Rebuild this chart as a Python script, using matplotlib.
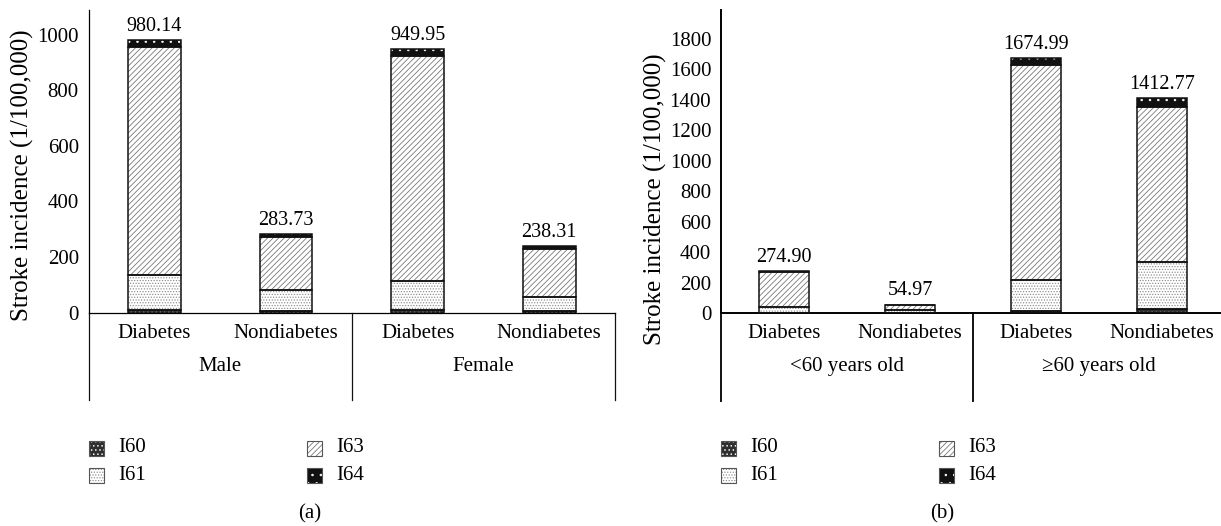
import matplotlib
matplotlib.use("Agg")
import matplotlib.pyplot as plt
from matplotlib.patches import Rectangle
import numpy as np

plt.rcParams.update({"font.family": ["Liberation Serif", "DejaVu Serif"],
                     "font.size": 15, "hatch.linewidth": 0.55})

W, H = 1221, 526

# ---- data ----
cats = ["Diabetes", "Nondiabetes", "Diabetes", "Nondiabetes"]
subtypes = ["I60", "I61", "I63", "I64"]

groups_a = ["Male", "Female"]
i60_a = [8, 6, 8, 5]
i61_a = [126, 74, 105, 52]
i63_a = [822.14, 193.73, 812.95, 172.31]
i64_a = [24, 10, 24, 9]
tot_a = [980.14, 283.73, 949.95, 238.31]

groups_b = ["<60 years old", "\u226560 years old"]
i60_b = [3, 2, 13, 24]
i61_b = [38, 20, 202, 309]
i63_b = [225.90, 29.97, 1414.99, 1018.77]
i64_b = [8, 3, 45, 61]
tot_b = [274.90, 54.97, 1674.99, 1412.77]

STY = {"I60": dict(fc="#2e2e2e", hc="white", hatch="...."),
       "I61": dict(fc="white", hc="#8c8c8c", hatch="......"),
       "I63": dict(fc="white", hc="#6e6e6e", hatch="//////"),
       "I64": dict(fc="#111111", hc="white", hatch="..")}


def fx(px):
    return px / W


def fy(py):
    return (H - py) / H


fig = plt.figure(figsize=(W / 100, H / 100), dpi=100)
ax_a = fig.add_axes([fx(88.5), fy(312.5), 526.5 / W, 302.5 / H])
ax_b = fig.add_axes([fx(721), fy(313), 504 / W, 303 / H])


def draw(ax, layers, totals, groups, ymax, yticks, lab_xy, lw, right_line):
    x = np.arange(len(cats))
    bot = np.zeros(len(cats))
    for name, vals in zip(subtypes, layers):
        s = STY[name]
        vals = np.asarray(vals, float)
        ax.bar(x, vals, 0.4, bottom=bot, color=s["fc"], edgecolor=s["hc"],
               hatch=s["hatch"], linewidth=0, zorder=2)
        ax.bar(x, vals, 0.4, bottom=bot, fill=False, edgecolor="#111111",
               linewidth=1.1, zorder=3)
        bot += vals
    for xi, t in zip(x, totals):
        ax.annotate(f"{t:.2f}", (xi, t), xytext=(0, 3), textcoords="offset points",
                    ha="center", va="bottom", fontsize=14.5)
    ax.set_xlim(-0.5, len(cats) - 0.5)
    ax.set_ylim(0, ymax)
    ax.set_yticks(yticks)
    ax.set_xticks([])
    ax.tick_params(axis="y", length=0, pad=7)
    for sp in ["top", "right"]:
        ax.spines[sp].set_visible(False)
    for sp in ["left", "bottom"]:
        ax.spines[sp].set_linewidth(lw)
    ax.set_ylabel("Stroke incidence (1/100,000)", fontsize=18)
    ax.yaxis.set_label_coords(*lab_xy)

    # category table under the axis
    ybot = -0.29
    xs = [0, 0.5, 1.0] if right_line else [0, 0.5]
    for xl in xs:
        ax.plot([xl, xl], [0, ybot], transform=ax.transAxes, clip_on=False,
                color="#111111", lw=lw)
    tr = ax.get_xaxis_transform()
    for xi, c in zip(x, cats):
        ax.text(xi, -0.068, c, transform=tr, ha="center", va="center")
    for gi, g in enumerate(groups):
        ax.text(gi * 2 + 0.5, -0.178, g, transform=tr, ha="center", va="center")


draw(ax_a, [i60_a, i61_a, i63_a, i64_a], tot_a, groups_a, 1090,
     np.arange(0, 1001, 200), (-0.104, 0.455), 0.9, True)
draw(ax_b, [i60_b, i61_b, i63_b, i64_b], tot_b, groups_b, 1990,
     np.arange(0, 1801, 200), (-0.108, 0.375), 1.4, False)

# ---- legends ----
cols = {"I60": (0, 0), "I61": (0, 1), "I63": (1, 0), "I64": (1, 1)}
for off, cap in [(0, "(a)"), (632, "(b)")]:
    for name in subtypes:
        c, r = cols[name]
        x0 = off + 89 + c * 218
        yc = 448 + r * 27
        s = STY[name]
        fig.add_artist(Rectangle((fx(x0), fy(yc + 7.5)), 15 / W, 15 / H,
                                 transform=fig.transFigure, facecolor=s["fc"],
                                 edgecolor=s["hc"], hatch=s["hatch"], linewidth=0))
        fig.add_artist(Rectangle((fx(x0), fy(yc + 7.5)), 15 / W, 15 / H,
                                 transform=fig.transFigure, fill=False,
                                 edgecolor="#555555", linewidth=0.8))
        fig.text(fx(x0 + 29), fy(yc), name, ha="left", va="center")
    fig.text(fx(off + 310), fy(514), cap, ha="center", va="center")

fig.savefig("out.png", dpi=100)
